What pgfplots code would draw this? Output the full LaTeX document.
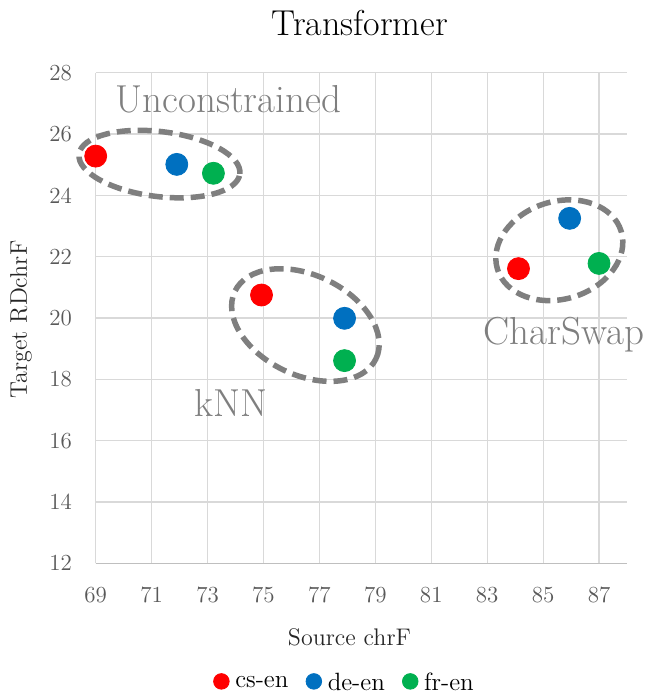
\documentclass[border=0pt]{standalone}
\usepackage{pgfplots}
\pgfplotsset{compat=1.18}
\definecolor{csred}{HTML}{FF0000}
\definecolor{deblue}{HTML}{0070C0}
\definecolor{frgreen}{HTML}{00B050}
\definecolor{gridgray}{HTML}{D9D9D9}
\definecolor{axisgray}{HTML}{BFBFBF}
\definecolor{annogray}{HTML}{7F7F7F}
\definecolor{ticktext}{HTML}{595959}
\begin{document}
\begin{tikzpicture}
\begin{axis}[
  at={(0pt,0pt)}, anchor=south west,
  scale only axis, width=265.65pt, height=245.3pt,
  xmin=69, xmax=88, ymin=12, ymax=28,
  xtick={69,71,...,87}, ytick={12,14,...,28},
  grid=major, major grid style={draw=gridgray, line width=0.6pt},
  axis line style={draw=none},
  major tick length=0pt,
  /pgf/number format/assume math mode=true,
  tick label style={font=\fontsize{11.5}{13}\selectfont, text=ticktext, inner sep=0pt},
  xticklabel style={anchor=north, yshift=-11.7pt},
  yticklabel style={anchor=east, xshift=-11.7pt},
  clip=false,
  title={Transformer},
  every axis title shift=0pt,
  title style={at={(axis description cs:0.4975,1.1013)}, anchor=center, yshift=0pt, font=\fontsize{18}{21}\selectfont},
  xlabel={Source chrF},
  xlabel style={at={(axis description cs:0.4777,-0.1512)}, anchor=center, font=\fontsize{12}{14}\selectfont, text=black!85},
  ylabel={Target RDchrF},
  ylabel style={at={(axis description cs:-0.1406,0.497)}, anchor=center, font=\fontsize{12}{14}\selectfont, text=black!85},
  legend columns=3,
  legend style={at={(axis description cs:0.4664,-0.2448)}, anchor=center, draw=none, fill=none, inner sep=0pt,
    font=\fontsize{12.5}{14}\selectfont, nodes={inner sep=0pt},
    /tikz/every odd column/.style={column sep=2.85pt},
    /tikz/every even column/.style={column sep=8.6pt}},
  legend image code/.code={\fill[#1] (0pt,1pt) circle (3.9pt);},
]
\draw[axisgray, line width=0.75pt] (rel axis cs:0,0) -- (rel axis cs:1,0);
\draw[annogray, line width=2.75pt, dash pattern=on 7pt off 3.5pt, rotate around={-7:(axis cs:71.28,25.02)}]
  (axis cs:71.28,25.02) ellipse [x radius=40.5pt, y radius=16.25pt];
\draw[annogray, line width=2.75pt, dash pattern=on 7pt off 3.5pt, rotate around={-25.5:(axis cs:76.50,19.77)}]
  (axis cs:76.50,19.77) ellipse [x radius=39.1pt, y radius=25pt];
\draw[annogray, line width=2.75pt, dash pattern=on 7pt off 3.5pt, rotate around={17:(axis cs:85.58,22.21)}]
  (axis cs:85.58,22.21) ellipse [x radius=32.35pt, y radius=24.4pt];
\addplot[only marks, mark=*, mark size=5.5pt, color=csred, mark options={draw=none, fill=csred}]
  coordinates {(69.0,25.28) (74.93,20.75) (84.12,21.61)};
\addlegendentry{cs-en}
\addplot[only marks, mark=*, mark size=5.5pt, color=deblue, mark options={draw=none, fill=deblue}]
  coordinates {(71.9,25.01) (77.9,19.99) (85.95,23.25)};
\addlegendentry{de-en}
\addplot[only marks, mark=*, mark size=5.5pt, color=frgreen, mark options={draw=none, fill=frgreen}]
  coordinates {(73.21,24.72) (77.9,18.61) (87.0,21.78)};
\addlegendentry{fr-en}
\node[anchor=base, text=annogray, font=\fontsize{19.5}{22}\selectfont] at (axis cs:73.74,26.70) {Unconstrained};
\node[anchor=base, text=annogray, font=\fontsize{19.5}{22}\selectfont] at (axis cs:73.85,16.78) {kNN};
\node[anchor=base, text=annogray, font=\fontsize{19.5}{22}\selectfont] at (axis cs:85.75,19.14) {CharSwap};
\end{axis}
\pgfresetboundingbox
\useasboundingbox (-47.85pt,-64.85pt) rectangle (276.15pt,281.65pt);
\end{tikzpicture}
\end{document}
